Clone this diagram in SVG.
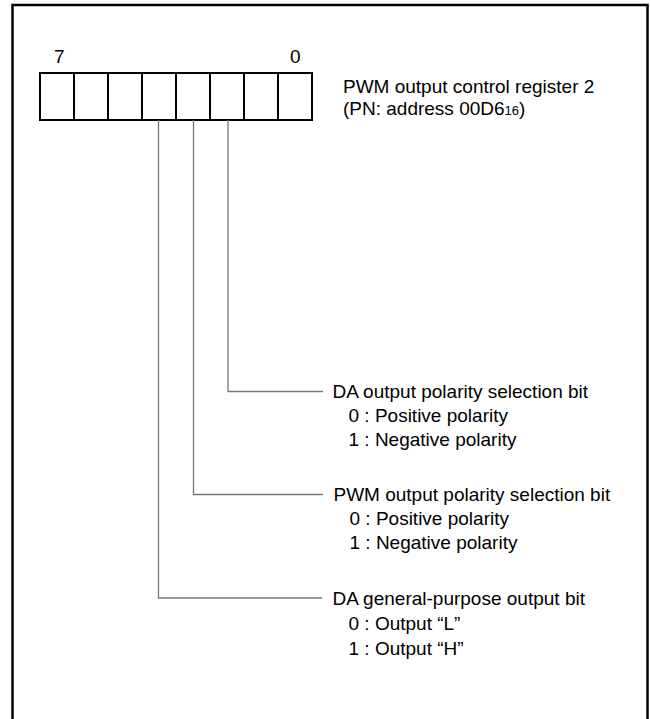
<svg xmlns="http://www.w3.org/2000/svg" width="651" height="719" viewBox="0 0 651 719">
<style>
text{font-family:"Liberation Sans",Arial,sans-serif;font-size:19px;fill:#000}
.frame{fill:none;stroke:#000;stroke-width:2.5}
.reg{fill:#fff;stroke:#000;stroke-width:2}
.conn{fill:none;stroke:#777;stroke-width:1.3}
</style>
<rect width="651" height="719" fill="#fff"/>
<path class="frame" d="M12.5,722 V5 H647.5 V722"/>
<g id="register">
<rect class="reg" x="40" y="73" width="272" height="47"/>
<path class="reg" d="M74,73V120M108,73V120M142,73V120M176,73V120M210,73V120M244,73V120M278,73V120"/>
<text x="54" y="63">7</text>
<text x="290" y="63">0</text>
</g>
<g id="title">
<text x="343" y="93">PWM output control register 2</text>
<text x="343" y="115">(PN: address 00D6<tspan font-size="13">16</tspan>)</text>
</g>
<g id="connectors">
<path class="conn" d="M228,120V391.5H323"/>
<path class="conn" d="M193.5,120V494.5H323"/>
<path class="conn" d="M158.5,120V598H322"/>
</g>
<g id="bit0">
<text x="332.5" y="397.5">DA output polarity selection bit</text>
<text x="348.5" y="422">0 : Positive polarity</text>
<text x="348.5" y="446">1 : Negative polarity</text>
</g>
<g id="bit1">
<text x="333.5" y="500.5">PWM output polarity selection bit</text>
<text x="349.5" y="525">0 : Positive polarity</text>
<text x="349.5" y="549">1 : Negative polarity</text>
</g>
<g id="bit2">
<text x="332.5" y="605">DA general-purpose output bit</text>
<text x="348.5" y="630">0 : Output “L”</text>
<text x="348.5" y="654.5">1 : Output “H”</text>
</g>
</svg>
